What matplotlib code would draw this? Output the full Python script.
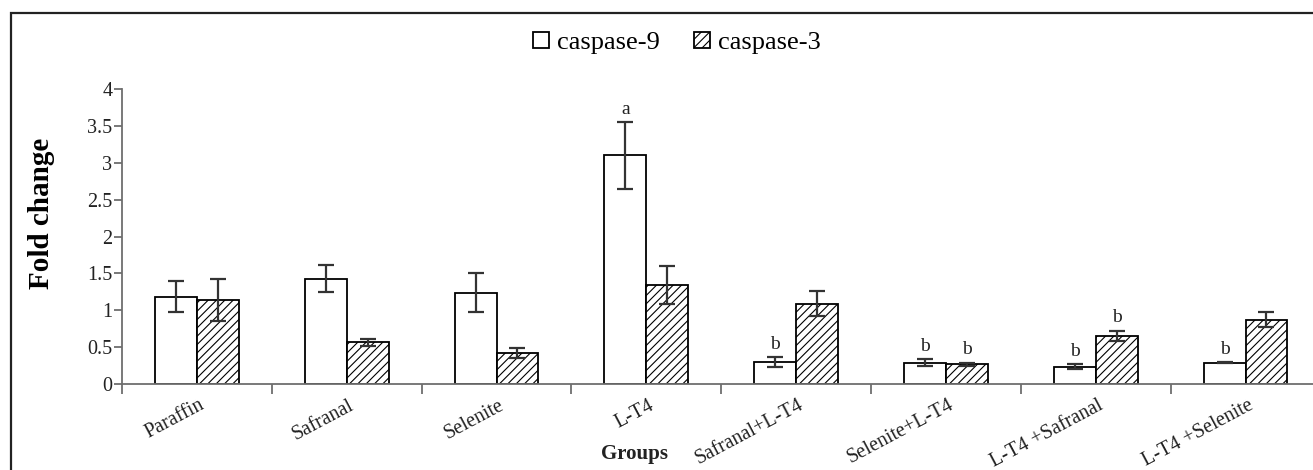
import numpy as np
import matplotlib
matplotlib.use("Agg")
import matplotlib.pyplot as plt
from matplotlib.patches import Rectangle
from matplotlib.ticker import FuncFormatter
from matplotlib.transforms import offset_copy

plt.rcParams["font.family"] = ["Liberation Serif", "DejaVu Serif"]
plt.rcParams["hatch.linewidth"] = 0.8

groups = ["Paraffin", "Safranal", "Selenite", "L-T4", "Safranal+L-T4",
          "Selenite+L-T4", "L-T4 +Safranal", "L-T4 +Selenite"]
casp9 = [1.18, 1.43, 1.24, 3.10, 0.30, 0.29, 0.235, 0.29]
casp9_err = [0.21, 0.18, 0.27, 0.45, 0.065, 0.045, 0.03, 0.01]
casp3 = [1.14, 0.565, 0.42, 1.34, 1.09, 0.27, 0.655, 0.87]
casp3_err = [0.28, 0.05, 0.07, 0.26, 0.165, 0.02, 0.07, 0.10]
# significance letters per group (caspase-9, caspase-3)
sig9 = ["", "", "", "a", "b", "b", "b", "b"]
sig3 = ["", "", "", "", "", "b", "b", ""]

W, H = 1313, 470
fig = plt.figure(figsize=(W / 100, H / 100), dpi=100)
ax = fig.add_axes([122 / W, 1 - 384 / H, 8 * 149.8 / W, (384 - 89) / H])

x = np.arange(len(groups))
bw = 0.28
axis_grey = "#6e6e6e"
ekw = dict(ecolor="#333333", elinewidth=1.6, capsize=6, capthick=1.6)

ax.bar(x - bw / 2, casp9, bw, color="white", edgecolor="black", lw=1.3,
       yerr=casp9_err, error_kw=ekw, label="caspase-9", zorder=2)
ax.bar(x + bw / 2, casp3, bw, color="white", edgecolor="black", lw=1.3,
       hatch="////", yerr=casp3_err, error_kw=ekw, label="caspase-3", zorder=2)

for i in range(len(groups)):
    if sig9[i]:
        ax.annotate(sig9[i], (x[i] - bw / 2, casp9[i] + casp9_err[i]),
                    xytext=(0, 3), textcoords="offset points",
                    ha="center", va="bottom", fontsize=14, color="#222222")
    if sig3[i]:
        ax.annotate(sig3[i], (x[i] + bw / 2, casp3[i] + casp3_err[i]),
                    xytext=(0, 3), textcoords="offset points",
                    ha="center", va="bottom", fontsize=14, color="#222222")

ax.set_xlim(-0.5, len(groups) - 0.5)
ax.set_ylim(0, 4)
ax.set_yticks(np.arange(0, 4.01, 0.5))
ax.yaxis.set_major_formatter(FuncFormatter(lambda v, p: f"{v:g}"))

# boundary ticks on the category axis, names on minor ticks
ax.set_xticks(np.arange(-0.5, len(groups), 1.0))
ax.set_xticklabels([])
ax.set_xticks(x, groups, minor=True)
ax.tick_params(axis="x", which="minor", length=0, pad=2, labelsize=14.5,
               labelcolor="#222222")
for lab in ax.get_xticklabels(minor=True):
    lab.set_rotation(28)
    lab.set_ha("right")
    lab.set_rotation_mode("anchor")
    lab.set_transform(offset_copy(lab.get_transform(), fig=fig, x=2, y=-9,
                                  units="dots"))
ax.tick_params(axis="x", which="major", direction="out", length=7,
               width=1.3, color=axis_grey)
ax.tick_params(axis="y", direction="out", length=6, width=1.3,
               color=axis_grey, labelsize=14.5, labelcolor="#222222", pad=1)

for s in ["top", "right"]:
    ax.spines[s].set_visible(False)
for s in ["left", "bottom"]:
    ax.spines[s].set_color(axis_grey)
    ax.spines[s].set_linewidth(1.3)
ax.spines["bottom"].set_zorder(3)

ax.set_ylabel("Fold change", fontsize=21, fontweight="bold")
ax.yaxis.set_label_coords(55 / W, 1 - 213 / H, transform=fig.transFigure)
fig.text(634 / W, 1 - 454 / H, "Groups", ha="center", va="center",
         fontsize=15, fontweight="bold", color="#222222")

ax.legend(loc="center", bbox_to_anchor=(677 / W, 1 - 43 / H),
          bbox_transform=fig.transFigure, ncol=2, frameon=False,
          fontsize=19, handlelength=0.6, handleheight=0.6,
          handletextpad=0.3, columnspacing=1.3)

# outer frame around the figure
fig.patches.append(Rectangle((11 / W, -0.2), 1.2, 1.2 - 13 / H,
                             transform=fig.transFigure, fill=False,
                             lw=1.6, edgecolor="#222222"))

fig.savefig("out.png", dpi=100)
